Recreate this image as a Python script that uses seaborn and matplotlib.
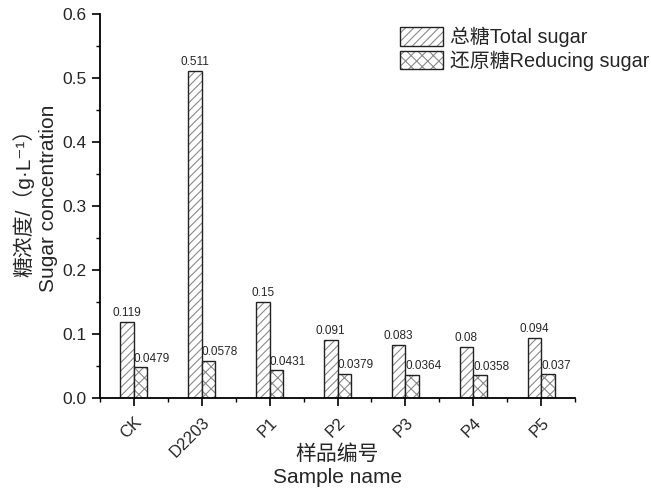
import matplotlib
matplotlib.use("Agg")
import matplotlib.pyplot as plt
import matplotlib.colors as mcolors
import seaborn as sns
import pandas as pd
from matplotlib.patches import Patch
from matplotlib.ticker import MultipleLocator

samples = ["CK", "D2203", "P1", "P2", "P3", "P4", "P5"]
total_sugar = [0.119, 0.511, 0.15, 0.091, 0.083, 0.08, 0.094]
reducing_sugar = [0.0479, 0.0578, 0.0431, 0.0379, 0.0364, 0.0358, 0.037]
series_names = ["总糖Total sugar", "还原糖Reducing sugar"]

sns.set_theme(style="ticks")
FAM = ["Liberation Sans", "Noto Sans CJK SC", "DejaVu Sans"]
plt.rcParams["font.family"] = FAM
plt.rcParams["hatch.linewidth"] = 0.8

HATCH_COLOR = mcolors.to_rgba("#8a8a8a")


def set_hatch_color(p):
    try:
        p.set_hatchcolor(HATCH_COLOR)
    except Exception:
        p._hatch_color = HATCH_COLOR


df = pd.DataFrame({
    "sample": samples * 2,
    "value": total_sugar + reducing_sugar,
    "series": [series_names[0]] * len(samples) + [series_names[1]] * len(samples),
})

fig = plt.figure(figsize=(6.51, 4.90), dpi=100)
ax = fig.add_axes([0.1536, 0.1878, 0.8833 - 0.1536, 0.9714 - 0.1878])

sns.barplot(data=df, x="sample", y="value", hue="series", order=samples,
            hue_order=series_names, width=0.4, gap=0, dodge=True,
            palette=["white", "white"], edgecolor="#222222", linewidth=1.0,
            legend=False, ax=ax)

hatches = ["////", "xxx"]
for cont, h in zip(ax.containers, hatches):
    for bar in cont:
        bar.set_hatch(h)
        set_hatch_color(bar)

# value labels
for cont, vals, ha in zip(ax.containers, [total_sugar, reducing_sugar], ["center", "left"]):
    for bar, v in zip(cont, vals):
        x = bar.get_x() + (bar.get_width() / 2 if ha == "center" else 0)
        ax.text(x, bar.get_height() + 0.004, f"{v:g}", ha=ha, va="bottom",
                fontsize=8.5, family=FAM)

ax.set_xlim(-0.5, len(samples) - 0.5)
ax.set_ylim(0, 0.6)
ax.yaxis.set_major_locator(MultipleLocator(0.1))
ax.yaxis.set_minor_locator(MultipleLocator(0.05))
ax.xaxis.set_minor_locator(MultipleLocator(0.5))
ax.yaxis.set_major_formatter(plt.FuncFormatter(lambda v, p: f"{v:.1f}"))
ax.tick_params(axis="both", which="major", direction="out", length=6, width=1.2,
               labelsize=12.5, color="black")
ax.tick_params(axis="both", which="minor", direction="out", length=3, width=1.0,
               color="black")
ax.tick_params(axis="x", which="major", pad=6, labelsize=12)
plt.setp(ax.get_xticklabels(), rotation=45, ha="right", rotation_mode="anchor")

sns.despine(ax=ax)
for s in ["left", "bottom"]:
    ax.spines[s].set_linewidth(1.3)
    ax.spines[s].set_color("black")

ax.set_xlabel("样品编号\nSample name", fontsize=15, linespacing=1.3)
ax.xaxis.set_label_coords(0.5, -0.12)
ax.xaxis.label.set_va("top")
ax.set_ylabel("糖浓度/（g·L⁻¹）\nSugar concentration", fontsize=15,
              linespacing=1.3)
ax.yaxis.set_label_coords(-0.088, 0.52)

handles = [Patch(facecolor="white", edgecolor="#222222", hatch=h, linewidth=1.0)
           for h in hatches]
for hd in handles:
    set_hatch_color(hd)
ax.legend(handles, series_names, loc="upper left", bbox_to_anchor=(0.632, 0.966),
          frameon=False, fontsize=14.3, handlelength=2.15, handleheight=1.05,
          handletextpad=0.35, labelspacing=0.15, borderaxespad=0.0, borderpad=0.0)

fig.savefig("out.png", dpi=100)
